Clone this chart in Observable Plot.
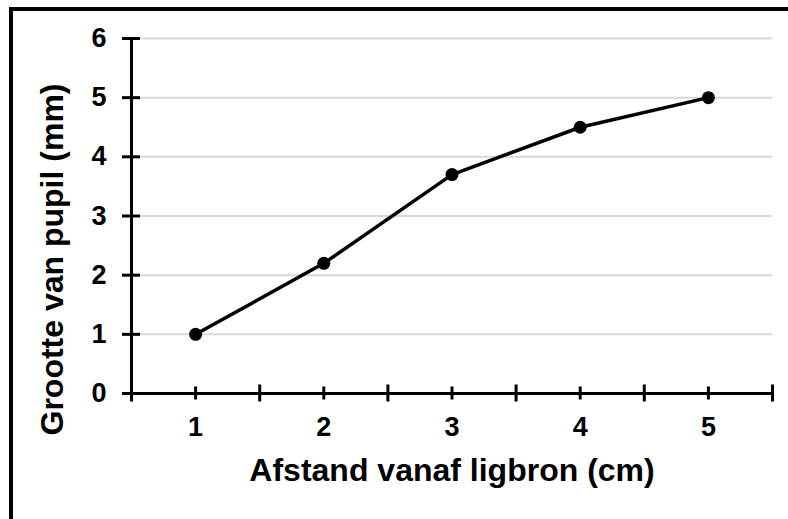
<!DOCTYPE html>
<html>
<head>
<meta charset="utf-8">
<script src="https://cdn.jsdelivr.net/npm/d3@7"></script>
<script src="https://cdn.jsdelivr.net/npm/@observablehq/plot@0.6"></script>
<style>
  html, body { margin: 0; padding: 0; background: #fff; }
  #wrap { position: relative; width: 788px; height: 519px; overflow: hidden; }
  #border { position: absolute; left: 9px; top: 7px; right: -10px; bottom: -10px;
            border-left: 4px solid #000; border-top: 4px solid #000; pointer-events: none; }
</style>
</head>
<body>
<div id="wrap"><div id="border"></div></div>
<script>
// Data
const distances = [1, 2, 3, 4, 5];           // Afstand vanaf ligbron (cm)
const pupilSizes = [1, 2.2, 3.7, 4.5, 5];    // Grootte van pupil (mm)
const yTicks = [0, 1, 2, 3, 4, 5, 6];
const xTitle = "Afstand vanaf ligbron (cm)";
const yTitle = "Grootte van pupil (mm)";

const data = distances.map((d, i) => ({x: d, y: pupilSizes[i]}));
const xMin = distances[0] - 0.5, xMax = distances[distances.length - 1] + 0.5;
const boundaries = distances.map(d => d - 0.5).concat([xMax]);
const gridVals = yTicks.filter(v => v > 0);

const font = "'Liberation Sans', Arial, Helvetica, sans-serif";
const W = 788, H = 519;
const mL = 131, mR = 16, mT = 38, mB = 126;
const pxPerY = (H - mT - mB) / (yTicks[yTicks.length - 1] - yTicks[0]);
const pxPerX = (W - mL - mR) / (xMax - xMin);

const chart = Plot.plot({
  width: W, height: H,
  marginLeft: mL, marginRight: mR, marginTop: mT, marginBottom: mB,
  style: {fontFamily: font, fontWeight: "bold", color: "#000", background: "transparent", overflow: "visible"},
  x: {type: "linear", domain: [xMin, xMax], axis: null},
  y: {type: "linear", domain: [0, 6], axis: null},
  marks: [
    // gridlines
    Plot.ruleY(gridVals, {y: d => d, x1: xMin, x2: xMax, stroke: "#d9d9d9", strokeWidth: 2}),
    // axis lines
    Plot.ruleX([xMin], {x: d => d, y1: 0, y2: 6, stroke: "#000", strokeWidth: 3}),
    Plot.ruleY([0], {y: d => d, x1: xMin, x2: xMax, stroke: "#000", strokeWidth: 3}),
    // y major ticks (crossing)
    Plot.ruleY(yTicks, {y: d => d, x1: xMin - 9 / pxPerX, x2: xMin + 9 / pxPerX, stroke: "#000", strokeWidth: 3}),
    // x major ticks at category boundaries (crossing)
    Plot.ruleX(boundaries, {x: d => d, y1: -8.5 / pxPerY, y2: 8.5 / pxPerY, stroke: "#000", strokeWidth: 3}),
    // x minor ticks at categories
    Plot.ruleX(distances, {x: d => d, y1: -6.5 / pxPerY, y2: 6.5 / pxPerY, stroke: "#000", strokeWidth: 3}),
    // tick labels
    Plot.text(yTicks, {x: xMin, y: d => d, text: d => String(d), dx: -25, textAnchor: "end", lineAnchor: "middle", fontSize: 27, fontWeight: "bold", fill: "#000"}),
    Plot.text(distances, {x: d => d, y: 0, text: d => String(d), dy: 23, textAnchor: "middle", lineAnchor: "top", fontSize: 27, fontWeight: "bold", fill: "#000"}),
    // data line + points
    Plot.line(data, {x: "x", y: "y", stroke: "#000", strokeWidth: 3.5}),
    Plot.dot(data, {x: "x", y: "y", r: 6.5, fill: "#000", stroke: "none"}),
    // axis titles
    Plot.text([xTitle], {frameAnchor: "bottom", textAnchor: "middle", lineAnchor: "bottom", dy: 87, fontSize: 32, fontWeight: "bold", fill: "#000"}),
    Plot.text([yTitle], {frameAnchor: "left", textAnchor: "middle", lineAnchor: "bottom", rotate: -90, dx: -69, dy: 43.5, fontSize: 32, fontWeight: "bold", fill: "#000"})
  ]
});
chart.style.position = "absolute";
chart.style.left = "0";
chart.style.top = "0";
document.getElementById("wrap").appendChild(chart);
</script>
</body>
</html>
